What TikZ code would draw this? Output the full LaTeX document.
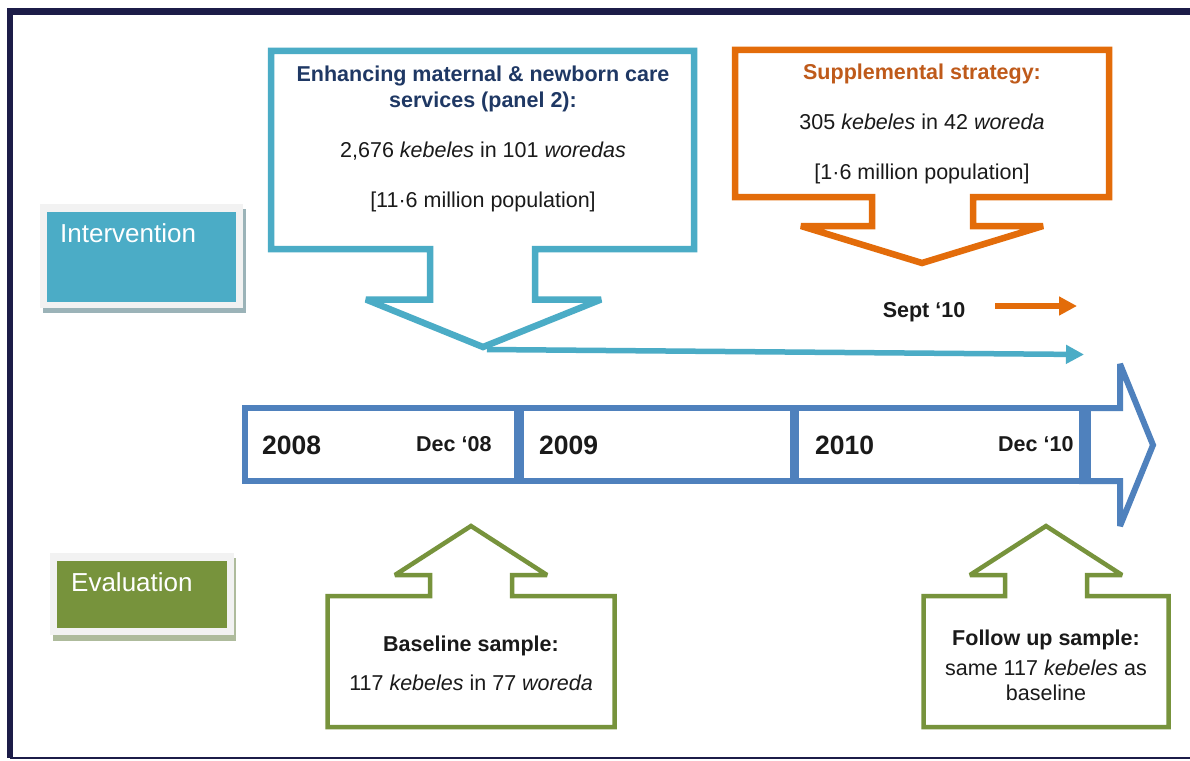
\documentclass[tikz,border=0pt]{standalone}
\usepackage{fontspec}
\setmainfont{Liberation Sans}
\usetikzlibrary{arrows.meta}
\definecolor{cNavy}{HTML}{1C1C48}
\definecolor{cTeal}{HTML}{4BACC6}
\definecolor{cBlue}{HTML}{4F81BD}
\definecolor{cOrange}{HTML}{E36C0A}
\definecolor{cOrangeText}{HTML}{BF5A1A}
\definecolor{cGreen}{HTML}{77933C}
\definecolor{cTitle}{HTML}{1F3864}
\definecolor{cRim}{HTML}{F2F2F2}
\definecolor{cShadowT}{HTML}{9BB3B8}
\definecolor{cShadowG}{HTML}{AEBB9C}
\definecolor{cText}{HTML}{1A1A1A}
\begin{document}
\begin{tikzpicture}[x=1pt,y=-1pt,
  callout/.style={line width=6.5pt, line join=miter, miter limit=2},
  tline/.style={draw=cBlue, line width=6pt, line join=miter, miter limit=2},
  txt/.style={font=\fontsize{21.5}{26}\selectfont, inner sep=0pt, anchor=base, text=cText},
  btxt/.style={txt, font=\fontsize{21.5}{26}\selectfont\bfseries},
  year/.style={inner sep=0pt, anchor=base west, text=cText, font=\fontsize{26.5}{30}\selectfont\bfseries},
  dectxt/.style={inner sep=0pt, anchor=base west, text=cText, font=\fontsize{21.5}{26}\selectfont\bfseries},
  label/.style={inner sep=0pt, anchor=base west, text=white, font=\fontsize{26}{30}\selectfont},
  conn/.style={line width=5.5pt, -{Triangle[length=18pt,width=18pt]}}
]
\useasboundingbox (0,0) rectangle (1190,760);
\fill[white] (0,0) rectangle (1190,760);

% frame
\draw[cNavy, line width=6.5pt, line join=miter] (1195,11.5) -- (10,11.5) -- (10,758);
\draw[cNavy, line width=2pt] (10,757.5) -- (1195,757.5);

% side labels
\fill[cShadowT] (43,209) rectangle (246,313);
\fill[cRim] (40,204) rectangle (243,308);
\fill[cTeal] (47,212) rectangle (236,302);
\node[label] (intervention) at (60,242) {Intervention};

\fill[cShadowG] (53,558) rectangle (236,641);
\fill[cRim] (50,553) rectangle (234,635);
\fill[cGreen] (57,561) rectangle (227,628);
\node[label] (evaluation) at (71,591) {Evaluation};

% blue callout
\draw[callout, draw=cTeal] (271,51) -- (694,51) -- (694,249) -- (535,249) -- (535,299.5) -- (601,299.5)
  -- (483,347) -- (366,299.5) -- (430,299.5) -- (430,249) -- (271,249) -- cycle;
\coordinate (bluetip) at (487,349.5);
\node[btxt, text=cTitle] (b1) at (483,81.5) {Enhancing maternal \& newborn care};
\node[btxt, text=cTitle] (b2) at (483,107.5) {services (panel 2):};
\node[txt] (b3) at (483,157.5) {2,676 \textit{kebeles} in 101 \textit{woredas}};
\node[txt] (b4) at (483,207.5) {[11·6 million population]};

% orange callout
\draw[callout, draw=cOrange] (735,50) -- (1109,50) -- (1109,197) -- (973,197) -- (973,226) -- (1043,226)
  -- (922,263) -- (801,226) -- (872,226) -- (872,197) -- (735,197) -- cycle;
\node[btxt, text=cOrangeText] (o1) at (922,79.5) {Supplemental strategy:};
\node[txt] (o2) at (922,129.5) {305 \textit{kebeles} in 42 \textit{woreda}};
\node[txt] (o3) at (922,179.5) {[1·6 million population]};

% connectors
\node[btxt] (sept) at (924,317.5) {Sept ‘10};
\coordinate (septstart) at (995,306);
\coordinate (septend) at (1077,306);
\draw[conn, cOrange] (septstart) -- (septend);
\coordinate (tealend) at (1084,354.5);
\draw[conn, cTeal] (bluetip) -- (tealend);

% timeline
\draw[tline] (1082,408) -- (1120,408) -- (1120,364) -- (1153,445) -- (1120,526) -- (1120,481) -- (1082,481) -- cycle;
\draw[tline] (245,408) rectangle (521,481);
\draw[tline] (517,408) rectangle (796,481);
\draw[tline] (793,408) rectangle (1088,481);
\node[year] (y2008) at (262,454) {2008};
\node[dectxt] (d08) at (416,451) {Dec ‘08};
\node[year] (y2009) at (539,454) {2009};
\node[year] (y2010) at (815,454) {2010};
\node[dectxt] (d10) at (998,451) {Dec ‘10};

% green callouts
\draw[callout, line width=4.5pt, draw=cGreen] (327.5,727) -- (327.5,596) -- (430,596) -- (430,575) -- (395,575)
  -- (471,526) -- (547,575) -- (512,575) -- (512,596) -- (614.5,596) -- (614.5,727) -- cycle;
\node[btxt] (g1) at (471,651.5) {Baseline sample:};
\node[txt] (g2) at (471,690.5) {117 \textit{kebeles} in 77 \textit{woreda}};

\draw[callout, line width=4.5pt, draw=cGreen] (923.5,727) -- (923.5,596) -- (1005,596) -- (1005,575) -- (970,575)
  -- (1046,526) -- (1122,575) -- (1087,575) -- (1087,596) -- (1168.5,596) -- (1168.5,727) -- cycle;
\node[btxt] (f1) at (1046,645.5) {Follow up sample:};
\node[txt] (f2) at (1046,675.5) {same 117 \textit{kebeles} as};
\node[txt] (f3) at (1046,700.5) {baseline};
\end{tikzpicture}
\end{document}
